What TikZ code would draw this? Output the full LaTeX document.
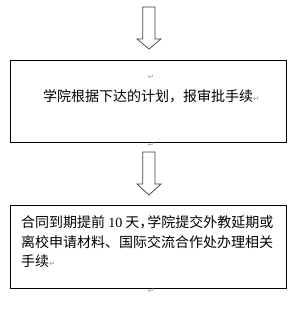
\documentclass[tikz,border=0pt]{standalone}
\usepackage{fontspec}
\setmainfont{Liberation Serif}
\newfontfamily\cjk{Noto Sans CJK SC}
\newfontfamily\symf{DejaVu Sans}
\newcommand{\parmark}{{\symf\color{black!40}\fontsize{7.5}{7.5}\selectfont ↵}}
\begin{document}
\begin{tikzpicture}[x=1pt,y=-1pt,
  boxstyle/.style={draw=black, line width=0.9pt},
  blockarrow/.style={draw=black!75, line width=0.7pt, fill=white},
  txt/.style={inner sep=0pt, font=\cjk\fontsize{14}{20}\selectfont},
  lineleft/.style={txt, anchor=base west}]
\useasboundingbox (0,0) rectangle (301,320);
% boxes
\draw[boxstyle] (10.5,60) rectangle (286.5,142);
\draw[boxstyle] (10.5,205) rectangle (286.5,288);
% block arrows
\draw[blockarrow] (142.7,7) -- (155,7) -- (155,39) -- (161,39) -- (149,49) -- (137,39) -- (142.7,39) -- cycle;
\draw[blockarrow] (142.7,152) -- (155,152) -- (155,184) -- (161,184) -- (149,195) -- (137,184) -- (142.7,184) -- cycle;
% texts
\node[txt] (m1) at (151,77) {\parmark};
\node[lineleft] (t1) at (43,102) {学院根据下达的计划，报审批手续\parmark};
\node[txt] (m2) at (151,145.5) {\parmark};
\node[lineleft] (l1) at (21,227) {合同到期提前 {\rmfamily 10} 天，\kern-6pt 学院提交外教延期或};
\node[lineleft] (l2) at (21,247) {离校申请材料、国际交流合作处办理相关};
\node[lineleft] (l3) at (21,266) {手续\parmark};
\node[txt] (m3) at (151,291) {\parmark};
\end{tikzpicture}
\end{document}
